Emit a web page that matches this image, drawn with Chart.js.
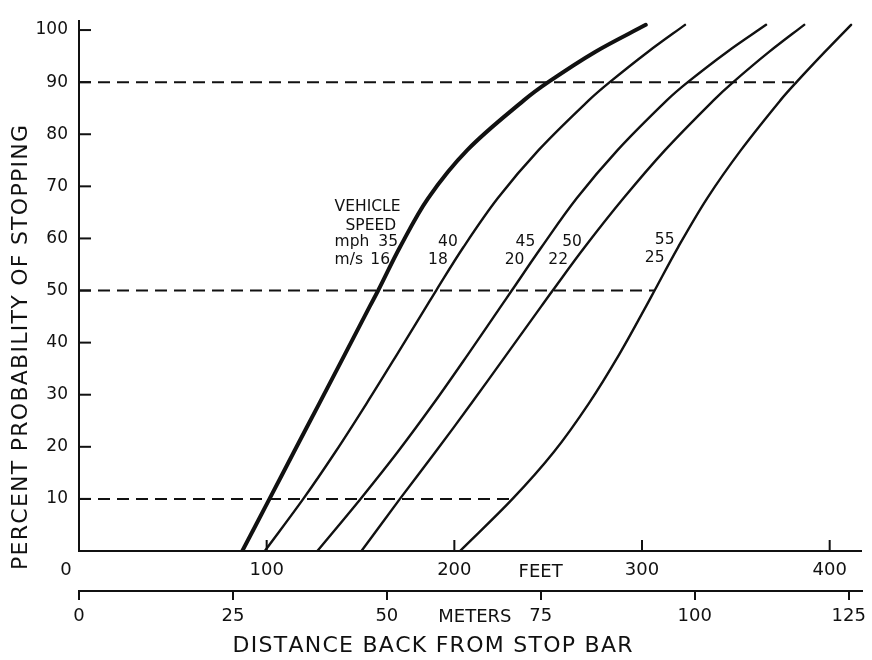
<!DOCTYPE html>
<html>
<head>
<meta charset="utf-8">
<script src="https://cdn.jsdelivr.net/npm/chart.js@4/dist/chart.umd.min.js"></script>
<style>
html,body{margin:0;padding:0;background:#fff}
#wrap{width:872px;height:660px}
</style>
</head>
<body>
<div id="wrap"><canvas id="c" width="872" height="660"></canvas></div>
<script>
// ---------- DATA ----------
// probability levels (percent) at which each curve was read
const pctLevels = [0, 10, 19, 28.3, 37.7, 47, 50, 58.3, 67.7, 77, 86.5, 90, 95.8, 101];
// distance back from stop bar (feet) for each vehicle speed
const dist35 = [87, 101.5, 114.5, 128, 141.6, 155, 159.4, 171, 186, 207, 237, 250, 275, 302];
const dist40 = [99, 119.5, 136.6, 153.2, 169.4, 185.2, 190.3, 204.8, 223.1, 245, 271.6, 282.8, 303.1, 322.9];
const dist45 = [127, 150, 169.8, 188.9, 207.2, 224.9, 230.6, 246.4, 265.2, 287.1, 313.2, 324.4, 345.3, 366.1];
const dist50 = [150.5, 171, 189.9, 209, 227.8, 246.4, 252.4, 269.4, 290.1, 312.4, 338.1, 348.6, 367.7, 386.4];
const dist55 = [203, 231, 253, 271.6, 287.8, 302.2, 306.7, 319.2, 334.7, 352.8, 373.7, 382.3, 397.4, 411.4];
const speedsMph = [35, 40, 45, 50, 55];
const speedsMs = [16, 18, 20, 22, 25];
// dashed reference levels, drawn out to the 55 mph curve
const refLevels = [10, 50, 90];
// axis ticks
const yTicks = [10, 20, 30, 40, 50, 60, 70, 80, 90, 100];
const feetTicks = [0, 100, 200, 300, 400];
const meterTicks = [0, 25, 50, 75, 100, 125];
const FT_PER_M = 1 / 0.3048;

// ---------- LAYOUT / STYLE ----------
const X_MAX_FT = 417;
const Y_MAX = 101.7;
const INK = '#111';
const FONT = '"DejaVu Sans", "Liberation Sans", sans-serif';
const curveWidths = [4, 2.4, 2.4, 2.4, 2.4];
// annotation anchors (left edge in feet, baseline in percent)
const mphLabelX = [159.5, 191.3, 232.6, 257.5, 306.8];
const msLabelX = [155.2, 186.0, 226.8, 250.1, 301.5];
const mphLabelY = [58.5, 58.5, 58.5, 58.5, 58.9];
const msLabelY = [55.1, 55.1, 55.1, 55.1, 55.5];

const distSets = [dist35, dist40, dist45, dist50, dist55];

const curveDatasets = distSets.map((d, i) => ({
  label: speedsMph[i] + ' mph',
  data: d.map((x, k) => ({ x: x, y: pctLevels[k] })),
  borderColor: INK,
  borderWidth: curveWidths[i],
  pointRadius: 0,
  showLine: true,
  fill: false,
  tension: 0.35,
  borderCapStyle: 'round',
  borderJoinStyle: 'round'
}));

const refDatasets = refLevels.map(lv => ({
  label: 'ref ' + lv,
  data: [{ x: 0, y: lv }, { x: dist55[pctLevels.indexOf(lv)], y: lv }],
  borderColor: INK,
  borderWidth: 2,
  borderDash: [12, 7],
  pointRadius: 0,
  showLine: true,
  fill: false
}));

function drawSpaced(ctx, text, cx, cy, targetW) {
  const chars = Array.from(text);
  const widths = chars.map(c => ctx.measureText(c).width);
  const natural = widths.reduce((a, b) => a + b, 0);
  const sp = (targetW - natural) / (chars.length - 1);
  let x = cx - targetW / 2;
  ctx.textAlign = 'left';
  ctx.textBaseline = 'middle';
  chars.forEach((c, i) => { ctx.fillText(c, x, cy); x += widths[i] + sp; });
}

const decor = {
  id: 'decor',
  afterDraw(chart) {
    const ctx = chart.ctx;
    const xs = chart.scales.x, ys = chart.scales.y, xm = chart.scales.xm;
    const ca = chart.chartArea;
    ctx.save();
    ctx.strokeStyle = INK;
    ctx.fillStyle = INK;
    ctx.lineWidth = 2;
    // inward ticks on the percent axis
    yTicks.forEach(v => {
      const py = ys.getPixelForValue(v);
      ctx.beginPath(); ctx.moveTo(ca.left, py); ctx.lineTo(ca.left + 12, py); ctx.stroke();
    });
    // inward ticks on the feet axis
    feetTicks.filter(v => v > 0).forEach(v => {
      const px = xs.getPixelForValue(v);
      ctx.beginPath(); ctx.moveTo(px, ca.bottom); ctx.lineTo(px, ca.bottom - 11); ctx.stroke();
    });
    // feet "0" label sits left of the origin
    ctx.font = '18px ' + FONT;
    ctx.textAlign = 'center';
    ctx.textBaseline = 'middle';
    ctx.fillText('0', xs.getPixelForValue(0) - 13, ca.bottom + 19);
    // unit names
    ctx.fillText('FEET', xs.getPixelForValue(246), ca.bottom + 21);
    ctx.fillText('METERS', xm.getPixelForValue(64.3), xm.top + 26);
    // axis titles
    ctx.font = '22px ' + FONT;
    drawSpaced(ctx, 'DISTANCE BACK FROM STOP BAR', 432.5, 646.5, 400);
    ctx.save();
    ctx.translate(21.5, 347.5);
    ctx.rotate(-Math.PI / 2);
    drawSpaced(ctx, 'PERCENT PROBABILITY OF STOPPING', 0, 0, 445);
    ctx.restore();
    // speed annotations
    ctx.font = '15.5px ' + FONT;
    ctx.textAlign = 'left';
    ctx.textBaseline = 'alphabetic';
    const put = (t, fx, py) => ctx.fillText(t, xs.getPixelForValue(fx), ys.getPixelForValue(py));
    put('VEHICLE', 136.2, 65.2);
    put('SPEED', 142.0, 61.6);
    put('mph', 136.2, 58.5);
    put('m/s', 136.2, 55.1);
    speedsMph.forEach((s, i) => put(String(s), mphLabelX[i], mphLabelY[i]));
    speedsMs.forEach((s, i) => put(String(s), msLabelX[i], msLabelY[i]));
    ctx.restore();
  }
};

new Chart(document.getElementById('c'), {
  type: 'scatter',
  data: { datasets: curveDatasets.concat(refDatasets) },
  options: {
    responsive: false,
    animation: false,
    devicePixelRatio: 1,
    layout: { padding: { left: 0, top: 10, right: 6, bottom: 30 } },
    plugins: { legend: { display: false }, tooltip: { enabled: false }, title: { display: false } },
    scales: {
      x: {
        type: 'linear', position: 'bottom', min: 0, max: X_MAX_FT,
        afterBuildTicks: s => { s.ticks = feetTicks.map(v => ({ value: v })); },
        afterFit: s => { s.height = 40; },
        grid: { display: true, drawOnChartArea: false, drawTicks: false },
        border: { display: true, color: INK, width: 2 },
        ticks: { color: INK, font: { family: FONT, size: 18 }, padding: 9, maxRotation: 0, autoSkip: false,
                 callback: v => (v === 0 ? '' : String(v)) }
      },
      xm: {
        type: 'linear', position: 'bottom', min: 0, max: X_MAX_FT / FT_PER_M,
        afterBuildTicks: s => { s.ticks = meterTicks.map(v => ({ value: v })); },
        afterFit: s => { s.height = 39; },
        grid: { display: true, drawOnChartArea: false, drawTicks: true, tickLength: 9, color: INK, tickColor: INK, lineWidth: 2 },
        border: { display: true, color: INK, width: 2 },
        ticks: { color: INK, font: { family: FONT, size: 18 }, padding: 6, maxRotation: 0, autoSkip: false,
                 callback: v => String(v) }
      },
      y: {
        type: 'linear', position: 'left', min: 0, max: Y_MAX,
        afterBuildTicks: s => { s.ticks = yTicks.map(v => ({ value: v })); },
        afterFit: s => { s.width = 79; },
        grid: { display: true, drawOnChartArea: false, drawTicks: false },
        border: { display: true, color: INK, width: 2 },
        ticks: { color: INK, font: { family: FONT, size: 17 }, padding: 11, callback: v => String(v) }
      }
    }
  },
  plugins: [decor]
});
</script>
</body>
</html>
